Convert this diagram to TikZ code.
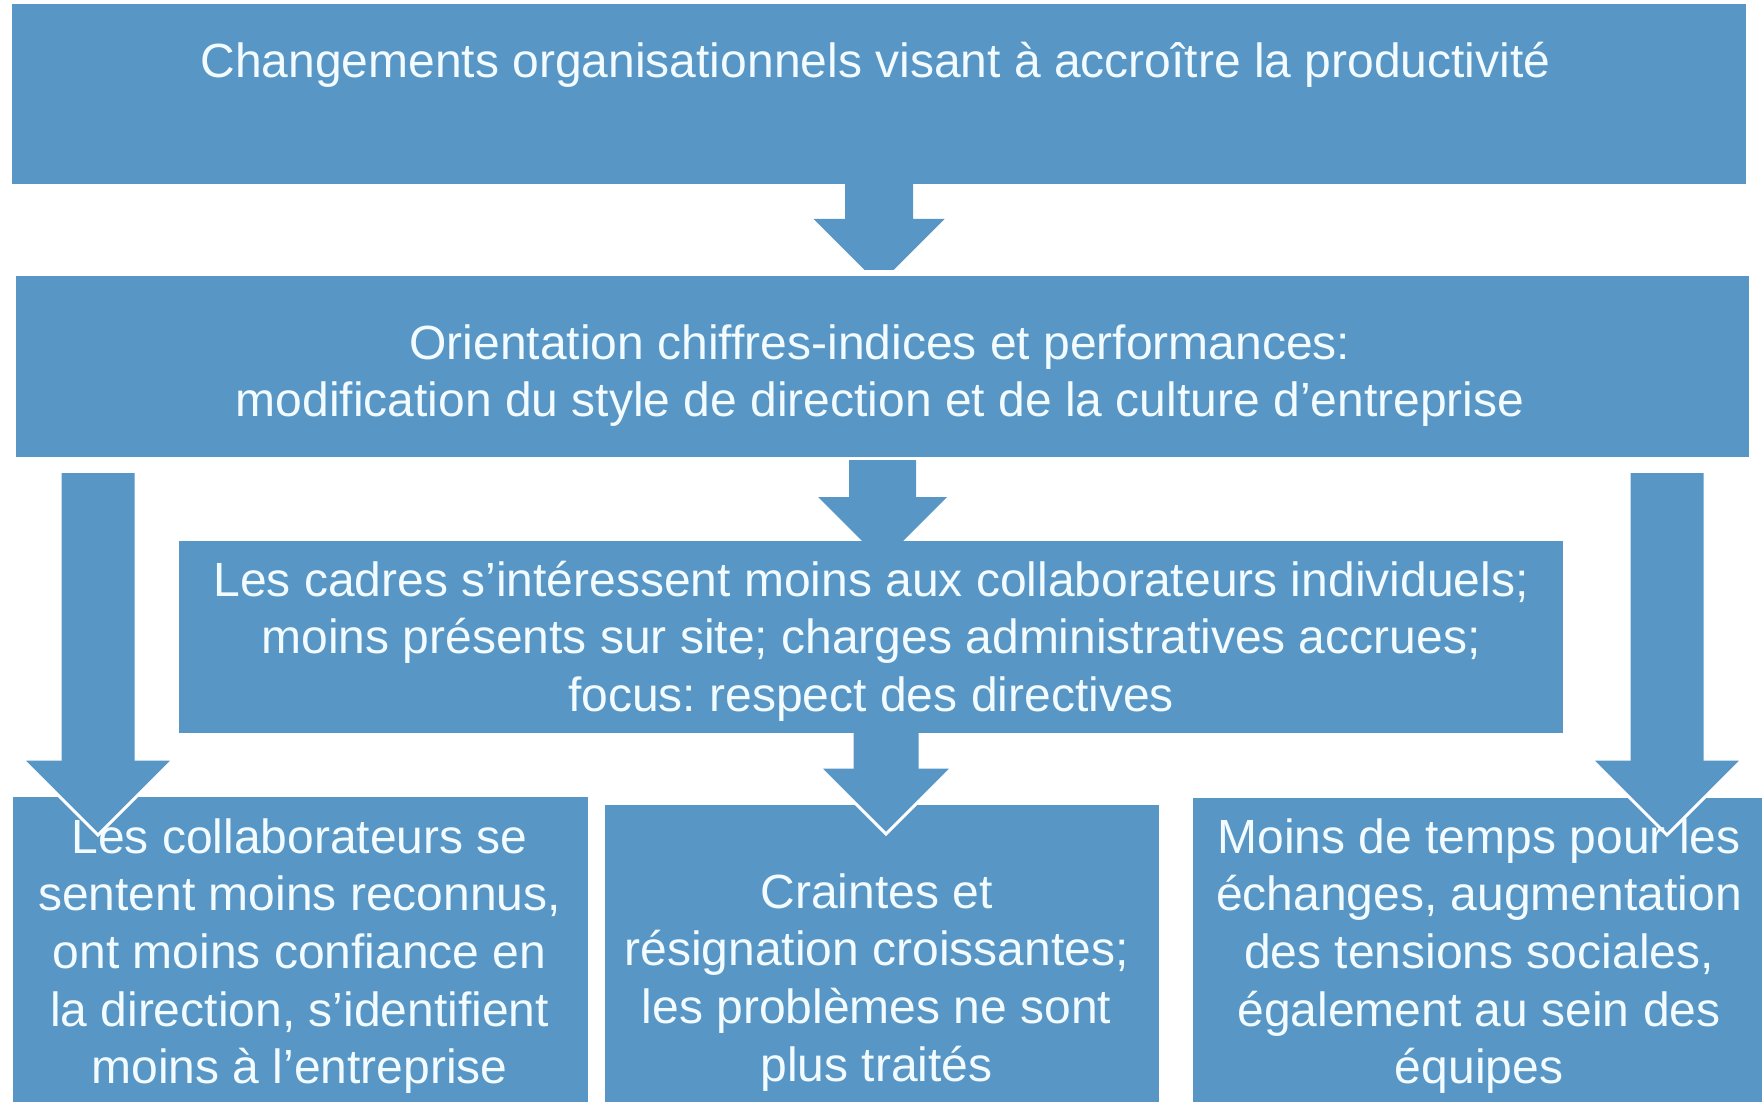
\documentclass[tikz,border=0pt]{standalone}
\usepackage{fontspec}
\setmainfont{Liberation Sans}
\usetikzlibrary{calc}
\frenchspacing

\definecolor{boxblue}{RGB}{88,150,197}
\definecolor{boxtext}{RGB}{242,251,255}

% Downward block arrow: #1 top point, #2 head start offset, #3 half shaft width,
% #4 half head width, #5 path options. The top edge stays open so a stroke
% never crosses the box the arrow grows out of.
\newcommand\blockarrow[5]{%
  \path[#5] ($(#1)+(-#3,0)$) -- ($(#1)+(-#3,#2)$) -- ($(#1)+(-#4,#2)$)
    -- ($(#1)+(0,#2+#4)$) -- ($(#1)+(#4,#2)$) -- ($(#1)+(#3,#2)$)
    -- ($(#1)+(#3,0)$);
}

\begin{document}
\begin{tikzpicture}[x=1pt,y=-1pt,
  panel/.style={fill=boxblue, draw=none, inner sep=0pt, outer sep=0pt},
  label/.style={text=boxtext, anchor=north, align=center, inner sep=0pt,
    font=\fontsize{48}{57.6}\selectfont},
  arrowfill/.style={fill=boxblue},
  arrowcut/.style={fill=boxblue, draw=white, line width=3pt, line join=miter}]

  \useasboundingbox (0,0) rectangle (1762,1102);

  % top box and first arrow
  \node[panel, minimum width=1734pt, minimum height=180pt] (b1) at (879,94) {};
  \blockarrow{b1.south}{35}{34}{65.5}{arrowfill}

  % second box, its white rim trims the arrow tip
  \node[panel, draw=white, line width=6pt, minimum width=1739pt,
        minimum height=187pt] (b2) at (882.5,366.5) {};
  \blockarrow{b2.south}{37}{33.5}{64.5}{arrowfill}

  % management box
  \node[panel, minimum width=1384pt, minimum height=192pt] (b3) at (871,637) {};

  % three consequence boxes
  \node[panel, minimum width=575pt, minimum height=305pt] (c1) at (300.5,949.5) {};
  \node[panel, minimum width=554pt, minimum height=297pt] (c2) at (882,953.5) {};
  \node[panel, minimum width=569pt, minimum height=304pt] (c3) at (1477.5,950) {};

  % arrows into the consequence boxes
  \coordinate (m3) at ($(b3.south)+(15,0)$);
  \blockarrow{m3}{34}{34}{67}{arrowcut}
  \coordinate (ls) at (98,473);
  \coordinate (rs) at (1667,473);
  \blockarrow{ls}{286}{38}{76}{arrowcut}
  \blockarrow{rs}{286}{38}{76}{arrowcut}

  % texts
  \node[label] (t1) at (875.5,36.7)
    {\strut Changements organisationnels visant à accroître la productivité};
  \node[label] (t2) at (880,318.7)
    {\strut Orientation chiffres-indices et performances:\\
     modification du style de direction et de la culture d’entreprise};
  \node[label] (t3) at (871,555.7)
    {\strut Les cadres s’intéressent moins aux collaborateurs individuels;\\
     moins présents sur site; charges administratives accrues;\\
     focus: respect des directives};
  \node[label] (t4) at (299.5,812.7)
    {\strut Les collaborateurs se\\ sentent moins reconnus,\\ ont moins confiance en\\
     la direction, s’identifient\\ moins à l’entreprise};
  \node[label] (t5) at (876.5,867.7)
    {\strut Craintes et\\ résignation croissantes;\\ les problèmes ne sont\\ plus traités};
  \node[label] (t6) at (1479,812.7)
    {\strut Moins de temps pour les\\ échanges, augmentation\\ des tensions sociales,\\
     également au sein des\\ équipes};
\end{tikzpicture}
\end{document}
